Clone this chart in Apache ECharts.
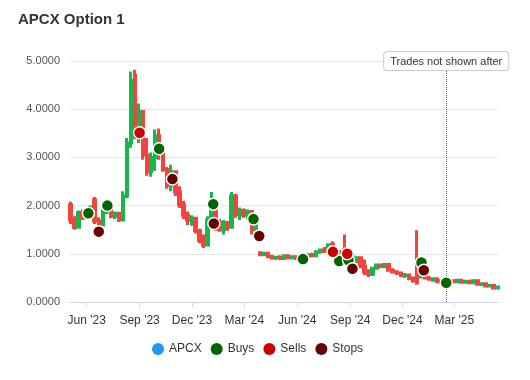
<!DOCTYPE html>
<html>
<head>
<meta charset="utf-8">
<script src="https://cdn.jsdelivr.net/npm/echarts@6/dist/echarts.min.js"></script>
<style>
html,body{margin:0;padding:0;background:#fff;}
#chart{width:530px;height:380px;}
</style>
</head>
<body>
<div id="chart"></div>
<script>
// Weekly candles (date, open, high, low, close)
const weekDates = [
'2023-05-04','2023-05-11','2023-05-18','2023-05-25','2023-06-01','2023-06-08','2023-06-15','2023-06-22','2023-06-29','2023-07-06',
'2023-07-13','2023-07-20','2023-07-27','2023-08-03','2023-08-10','2023-08-17','2023-08-24','2023-08-31','2023-09-07','2023-09-14',
'2023-09-21','2023-09-28','2023-10-05','2023-10-12','2023-10-19','2023-10-26','2023-11-02','2023-11-09','2023-11-16','2023-11-23',
'2023-11-30','2023-12-07','2023-12-14','2023-12-21','2023-12-28','2024-01-04','2024-01-11','2024-01-18','2024-01-25','2024-02-01',
'2024-02-08','2024-02-15','2024-02-22','2024-02-29','2024-03-07','2024-03-14','2024-03-21','2024-03-28','2024-04-04','2024-04-11',
'2024-04-18','2024-04-25','2024-05-02','2024-05-09','2024-05-16','2024-05-23','2024-05-30','2024-06-06','2024-06-13','2024-06-20',
'2024-06-27','2024-07-04','2024-07-11','2024-07-18','2024-07-25','2024-08-01','2024-08-08','2024-08-15','2024-08-22','2024-08-29',
'2024-09-05','2024-09-12','2024-09-19','2024-09-26','2024-10-03','2024-10-10','2024-10-17','2024-10-24','2024-10-31','2024-11-07',
'2024-11-14','2024-11-21','2024-11-28','2024-12-05','2024-12-12','2024-12-19','2024-12-26','2025-01-02','2025-01-09','2025-01-16',
'2025-01-23','2025-01-30','2025-02-06','2025-02-13','2025-02-20','2025-02-27','2025-03-06','2025-03-13','2025-03-20','2025-03-27',
'2025-04-03','2025-04-10','2025-04-17','2025-04-24','2025-05-01','2025-05-08','2025-05-15'
];
const opens = [
2.02,1.70,1.55,1.85,1.75,1.84,2.12,1.68,1.60,1.88,
1.98,1.78,1.84,1.70,2.20,3.30,4.70,3.55,3.95,3.05,
2.70,3.00,3.45,3.10,2.75,2.42,2.70,2.28,2.02,1.80,
1.70,1.74,1.48,1.28,1.18,1.70,2.05,1.62,1.50,1.65,
1.55,2.20,1.82,1.90,1.80,1.88,1.50,1.02,0.98,1.01,
0.94,0.92,0.93,0.90,0.96,0.92,0.94,0.90,0.88,0.95,
0.98,0.96,1.04,1.08,1.05,1.20,0.94,1.04,1.08,1.02,
0.86,0.88,0.92,0.74,0.62,0.58,0.70,0.77,0.74,0.78,
0.66,0.62,0.60,0.55,0.56,0.50,0.72,0.52,0.63,0.50,
0.45,0.48,0.42,0.44,0.39,0.44,0.42,0.45,0.41,0.43,
0.40,0.44,0.37,0.38,0.33,0.34,0.29
];
const highs = [
2.08,1.78,1.90,1.92,1.88,2.00,2.18,1.76,1.92,2.05,
2.02,1.88,1.86,2.30,3.40,4.78,4.82,4.12,3.98,3.40,
3.10,3.58,3.60,3.22,2.80,2.85,2.72,2.40,2.10,1.88,
1.80,1.76,1.52,1.40,1.78,2.28,2.08,1.72,1.70,1.68,
2.28,2.24,1.96,1.94,1.92,1.90,1.72,1.05,1.04,1.02,
0.98,0.96,0.97,0.98,0.99,0.95,0.96,0.93,0.96,1.00,
1.02,1.06,1.10,1.14,1.22,1.26,1.08,1.08,1.40,1.06,
0.96,0.95,0.94,0.88,0.68,0.72,0.80,0.80,0.80,0.79,
0.70,0.66,0.62,0.60,0.58,0.52,1.49,0.68,0.65,0.54,
0.50,0.49,0.46,0.45,0.46,0.46,0.46,0.46,0.44,0.44,
0.46,0.45,0.40,0.39,0.36,0.35,0.33
];
const lows = [
1.62,1.50,1.52,1.70,1.72,1.78,1.62,1.55,1.58,1.82,
1.74,1.72,1.66,1.68,2.15,3.20,3.38,3.30,2.95,2.62,
2.60,2.72,2.95,2.70,2.35,2.30,2.20,1.95,1.72,1.60,
1.58,1.42,1.22,1.12,1.15,1.65,1.48,1.46,1.40,1.48,
1.52,1.75,1.70,1.75,1.72,1.40,1.44,0.95,0.95,0.92,
0.88,0.87,0.88,0.89,0.90,0.88,0.88,0.86,0.86,0.92,
0.93,0.94,1.00,1.02,1.04,1.04,0.91,0.86,0.98,0.88,
0.84,0.80,0.70,0.56,0.52,0.54,0.68,0.70,0.70,0.64,
0.60,0.56,0.52,0.50,0.46,0.40,0.36,0.50,0.48,0.44,
0.42,0.40,0.38,0.37,0.38,0.40,0.40,0.40,0.39,0.38,
0.39,0.36,0.33,0.31,0.30,0.27,0.28
];
const closes = [
1.70,1.55,1.85,1.75,1.84,1.96,1.68,1.60,1.88,1.98,
1.78,1.84,1.70,2.20,3.30,4.60,3.55,3.95,3.05,2.70,
3.00,3.45,3.10,2.75,2.42,2.70,2.28,2.02,1.80,1.70,
1.74,1.48,1.28,1.18,1.70,2.05,1.55,1.50,1.65,1.55,
2.20,1.82,1.90,1.80,1.88,1.50,1.65,0.98,1.01,0.94,
0.92,0.93,0.90,0.96,0.92,0.94,0.90,0.88,0.95,0.98,
0.96,1.04,1.08,1.05,1.18,1.08,1.04,0.90,1.02,0.92,
0.94,0.92,0.74,0.62,0.58,0.70,0.77,0.74,0.78,0.66,
0.62,0.60,0.55,0.56,0.48,0.44,0.40,0.63,0.50,0.47,
0.48,0.42,0.44,0.39,0.44,0.42,0.45,0.41,0.43,0.40,
0.44,0.37,0.38,0.33,0.34,0.29,0.31
];

// Trades
const buyDates  = ['2023-06-04','2023-07-07','2023-10-05','2024-01-07','2024-03-17','2024-06-11','2024-08-13','2024-08-29','2025-01-03','2025-02-15'];
const buyPrices = [1.84,2.00,3.18,2.03,1.72,0.89,0.85,0.87,0.82,0.40];
const sellDates  = ['2023-09-01','2024-08-02','2024-08-27'];
const sellPrices = [3.51,1.04,1.00];
const stopDates  = ['2023-06-22','2023-10-28','2024-01-08','2024-03-27','2024-09-05','2025-01-07'];
const stopPrices = [1.46,2.55,1.63,1.37,0.69,0.66];

const cutoffDate = '2025-02-15';
const cutoffLabel = 'Trades not shown after';

const tickDates  = ['2023-06-01','2023-09-01','2023-12-01','2024-03-01','2024-06-01','2024-09-01','2024-12-01','2025-03-01'];
const tickLabels = ["Jun '23","Sep '23","Dec '23","Mar '24","Jun '24","Sep '24","Dec '24","Mar '25"];

const toTime = s => { const p = s.split('-').map(Number); return Date.UTC(p[0], p[1] - 1, p[2]); };
const tickTimes = tickDates.map(toTime);

const candleData = weekDates.map((d, i) => [toTime(d), opens[i], closes[i], lows[i], highs[i]]);
const pts = (ds, ps) => ds.map((d, i) => [toTime(d), ps[i]]);

const chart = echarts.init(document.getElementById('chart'), null, {renderer: 'canvas'});
const font = "'Liberation Sans', Arial, sans-serif";

const markerStyle = (c) => ({color: c, opacity: 1, borderColor: '#ffffff', borderWidth: 1.5});

chart.setOption({
  animation: false,
  backgroundColor: '#ffffff',
  textStyle: {fontFamily: font},
  title: {
    text: 'APCX Option 1',
    left: 18, top: 12, padding: 0,
    textStyle: {fontSize: 15, fontWeight: 'bold', color: '#333333', fontFamily: font}
  },
  legend: {
    left: 147, top: 338,
    icon: 'circle',
    itemWidth: 12, itemHeight: 12, itemGap: 9,
    textStyle: {fontSize: 12, color: '#333333', fontFamily: font},
    data: [
      {name: 'APCX', itemStyle: {color: '#2196f3', borderColor: '#2196f3', borderWidth: 0, opacity: 1}},
      {name: 'Buys', itemStyle: {color: '#006400', borderWidth: 0, opacity: 1}},
      {name: 'Sells', itemStyle: {color: '#cc0000', borderWidth: 0, opacity: 1}},
      {name: 'Stops', itemStyle: {color: '#660000', borderWidth: 0, opacity: 1}}
    ]
  },
  grid: {left: 70, right: 32, top: 61, bottom: 78, containLabel: false},
  xAxis: {
    type: 'value',
    min: toTime('2023-05-03'),
    max: toTime('2025-05-16'),
    scale: true,
    splitLine: {show: false},
    axisLine: {show: true, lineStyle: {color: '#ccd6eb'}},
    axisTick: {show: true, length: 5, lineStyle: {color: '#ccd6eb'}, customValues: tickTimes},
    axisLabel: {
      customValues: tickTimes,
      margin: 13,
      fontSize: 12,
      color: '#333333',
      fontFamily: font,
      formatter: (v) => { const k = tickTimes.indexOf(v); return k >= 0 ? tickLabels[k] : ''; }
    }
  },
  yAxis: {
    type: 'value',
    min: 0, max: 5, interval: 1,
    axisLine: {show: false},
    axisTick: {show: false},
    splitLine: {lineStyle: {color: '#e6e6e6'}},
    axisLabel: {margin: 10, fontSize: 11, color: '#555555', fontFamily: font, formatter: (v) => v.toFixed(4)}
  },
  series: [
    {
      name: 'APCX',
      type: 'candlestick',
      barWidth: 2,
      data: candleData,
      itemStyle: {color: '#16b84e', color0: '#f0443c', borderColor: '#16b84e', borderColor0: '#f0443c', borderWidth: 3},
      markLine: {
        silent: true,
        symbol: ['none', 'none'],
        lineStyle: {type: 'dotted', color: '#5c5cd6', width: 1},
        label: {
          show: true,
          position: 'end',
          distance: -9,
          formatter: cutoffLabel,
          fontSize: 11,
          color: '#333333',
          fontFamily: font,
          backgroundColor: '#ffffff',
          borderColor: '#cccccc',
          borderWidth: 1,
          borderRadius: 3,
          padding: [4, 6, 3, 6]
        },
        data: [{xAxis: toTime(cutoffDate)}]
      },
      z: 2
    },
    {name: 'Buys', type: 'scatter', symbol: 'circle', symbolSize: 12, data: pts(buyDates, buyPrices), itemStyle: markerStyle('#006400'), z: 5},
    {name: 'Sells', type: 'scatter', symbol: 'circle', symbolSize: 12, data: pts(sellDates, sellPrices), itemStyle: markerStyle('#cc0000'), z: 5},
    {name: 'Stops', type: 'scatter', symbol: 'circle', symbolSize: 12, data: pts(stopDates, stopPrices), itemStyle: markerStyle('#660000'), z: 5}
  ]
});
</script>
</body>
</html>
